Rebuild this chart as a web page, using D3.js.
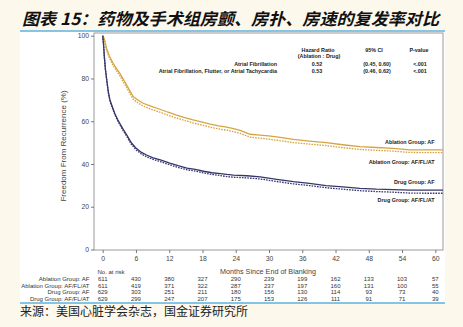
<!DOCTYPE html>
<html><head><meta charset="utf-8">
<script src="https://cdn.jsdelivr.net/npm/d3@7"></script>
<style>
html,body{margin:0;padding:0;background:#fdf8ec;}
svg{display:block;}
</style></head>
<body>
<svg id="c" width="463" height="327"></svg>
<script>
// ---------- data ----------
const titleText = "图表 15：药物及手术组房颤、房扑、房速的复发率对比";
const sourceText = "来源：美国心脏学会杂志，国金证券研究所";
const xTicks = [0,6,12,18,24,30,36,42,48,54,60];
const yTicks = [0,20,40,60,80,100];

const ablMonths = [0,0.3,0.7,1.2,1.9,2.5,3.1,3.7,4.3,4.9,5.5,6.4,7.3,8.8,10.3,11.8,13.3,14.8,16.3,17.6,19.4,20.9,22.4,23.6,24.8,25.7,26.6,28.4,29.9,31.4,32.9,34.4,37.3,40.3,43.3,46.4,49.4,52.4,55.4,58.4,61.5];
const ablAF    = [100,98.5,94,90.5,87,84.6,82.4,79.7,77,74.2,71.5,69.8,68.4,66.9,65.6,64.2,62.9,61.7,60.6,59.8,58.6,57.8,57.2,56.5,55.7,54.8,53.9,53.5,53.1,52.7,52.1,51.5,50.7,50.0,49.0,48.1,47.7,47.3,46.6,46.6,46.6];
const ablAll   = [100,98,93.2,89.6,86,83.5,81.2,78.5,75.8,73,70.3,68.5,67.1,65.5,64.2,62.8,61.5,60.3,59.2,58.4,57.2,56.4,55.8,55.1,54.3,53.4,52.5,52.1,51.6,51.1,50.6,50.0,49.3,48.6,47.6,46.8,46.4,46.0,45.4,45.3,45.3];

const drugMonths = [0,0.15,0.3,0.5,0.8,1.0,1.3,1.7,2.2,2.7,3.2,3.7,4.3,4.8,5.2,6.1,7.0,7.9,9.1,10.4,12.1,13.6,15.2,16.7,18.2,19.7,21.2,22.4,23.6,26,28.4,31.4,34.4,37.3,40.3,43.3,46.4,49.4,52.4,55.4,58.4,61.5];
const drugAF   = [100,96,90,84,78,74,70,67,63.5,60.8,58.4,56.2,53.8,51.5,49.8,47.2,45.4,44.2,42.9,41.9,40.4,39.2,38.1,37.5,36.6,35.9,35.5,35.1,34.8,34.5,34.0,32.8,31.7,30.9,29.9,29.3,28.6,28.2,28.0,27.8,27.8,27.8];
const drugAll  = [100,96,90,84,77.5,73.5,69.5,66.5,63,60.2,57.9,55.6,53.1,50.8,49.1,46.4,44.6,43.4,42.1,41.1,39.6,38.4,37.3,36.7,35.8,35.1,34.6,34.1,33.8,33.5,33.0,31.8,30.7,29.9,28.9,28.2,27.5,27.1,26.8,26.4,26.3,26.3];

const seriesNames = ["Ablation Group: AF","Ablation Group: AF/FL/AT","Drug Group: AF","Drug Group: AF/FL/AT"];
const riskRows = [
  [611,430,380,327,290,239,199,162,133,103,57],
  [611,419,371,322,287,237,197,160,131,100,55],
  [629,303,251,211,180,156,130,114,93,73,40],
  [629,299,247,207,175,153,126,111,91,71,39]
];
const hrHeaders = ["Hazard Ratio","(Ablation : Drug)","95% CI","P-value"];
const hrLabels = ["Atrial Fibrillation","Atrial Fibrillation, Flutter, or Atrial Tachycardia"];
const hrValues = ["0.52","0.53"];
const hrCI = ["(0.45, 0.60)","(0.46, 0.62)"];
const hrP = ["<.001","<.001"];

// ---------- drawing ----------
const svg = d3.select("#c");
const gold = "#d6a443", navy = "#36366c";

svg.append("rect").attr("x",20).attr("y",31).attr("width",425).attr("height",272).attr("fill","#fff");
svg.append("line").attr("x1",20).attr("x2",445).attr("y1",31).attr("y2",31).attr("stroke","#5cb2dc").attr("stroke-width",1.5);
svg.append("line").attr("x1",20).attr("x2",445).attr("y1",303).attr("y2",303).attr("stroke","#5cb2dc").attr("stroke-width",1.5);

svg.append("text").attr("x",22).attr("y",25)
  .attr("font-family","'Noto Sans CJK SC'").attr("font-weight","bold").attr("font-style","italic")
  .attr("font-size",16.5).attr("fill","#111").attr("textLength",417).attr("lengthAdjust","spacingAndGlyphs")
  .text(titleText);
svg.append("text").attr("x",20).attr("y",316)
  .attr("font-family","'Noto Sans CJK SC'").attr("font-size",12).attr("fill","#222")
  .attr("textLength",228).attr("lengthAdjust","spacingAndGlyphs")
  .text(sourceText);

const x = d3.scaleLinear().domain([0,60]).range([102.7,435.3]);
const y = d3.scaleLinear().domain([0,100]).range([249.5,35.7]);
const L=94, R=443, T=33, B=250;

svg.append("rect").attr("x",L).attr("y",T).attr("width",R-L).attr("height",B-T)
  .attr("fill","none").attr("stroke","#9a9a9a").attr("stroke-width",1);

const fontSans = "'Liberation Sans', Arial, sans-serif";
const yAxis = d3.axisLeft(y).tickValues(yTicks).tickSize(3).tickPadding(2);
const gy = svg.append("g").attr("transform",`translate(${L},0)`).call(yAxis);
const xAxis = d3.axisBottom(x).tickValues(xTicks).tickSize(3).tickPadding(3);
const gx = svg.append("g").attr("transform",`translate(0,${B})`).call(xAxis);
[gx,gy].forEach(g=>{
  g.select(".domain").remove();
  g.selectAll("line").attr("stroke","#777");
  g.selectAll("text").attr("font-family",fontSans).attr("font-size",6.8).attr("fill","#444");
});

svg.append("text").attr("transform","translate(66,146) rotate(-90)").attr("text-anchor","middle")
  .attr("font-family",fontSans).attr("font-size",8).attr("fill","#444").text("Freedom From Recurrence (%)");
svg.append("text").attr("x",268).attr("y",274).attr("text-anchor","middle")
  .attr("font-family",fontSans).attr("font-size",7.2).attr("fill","#444").text("Months Since End of Blanking");

svg.append("clipPath").attr("id","pc").append("rect").attr("x",L).attr("y",T).attr("width",R-L).attr("height",B-T);
const line = d3.line().x(d=>x(d[0])).y(d=>y(d[1])).curve(d3.curveLinear);
const curves = [
  {m:ablMonths, v:ablAll, c:gold, dash:"1.6,1.1"},
  {m:ablMonths, v:ablAF, c:gold, dash:null},
  {m:drugMonths, v:drugAll, c:navy, dash:"1.6,1.1"},
  {m:drugMonths, v:drugAF, c:navy, dash:null}
];
const gc = svg.append("g").attr("clip-path","url(#pc)");
curves.forEach(cv=>{
  gc.append("path").datum(cv.m.map((mm,i)=>[mm,cv.v[i]]))
    .attr("d",line).attr("fill","none").attr("stroke",cv.c).attr("stroke-width",1.3)
    .attr("stroke-dasharray",cv.dash);
});

const labY = [144,164,184,201.5];
seriesNames.forEach((s,i)=>{
  svg.append("text").attr("x",434.5).attr("y",labY[i]).attr("text-anchor","end")
    .attr("font-family",fontSans).attr("font-weight","bold").attr("font-size",5.4).attr("fill","#222").text(s);
});

const hb = svg.append("g").attr("font-family",fontSans).attr("font-weight","bold").attr("font-size",5.4).attr("fill","#222");
hb.append("text").attr("x",318).attr("y",51.5).attr("text-anchor","middle").text(hrHeaders[0]);
hb.append("text").attr("x",319).attr("y",57.5).attr("text-anchor","middle").text(hrHeaders[1]);
hb.append("text").attr("x",374).attr("y",51.5).attr("text-anchor","middle").text(hrHeaders[2]);
hb.append("text").attr("x",419).attr("y",51.5).attr("text-anchor","middle").text(hrHeaders[3]);
hrLabels.forEach((t,i)=>{
  const yy = 65.7 + i*7;
  hb.append("text").attr("x",277).attr("y",yy).attr("text-anchor","end").text(t);
  hb.append("text").attr("x",317).attr("y",yy).attr("text-anchor","middle").text(hrValues[i]);
  hb.append("text").attr("x",377).attr("y",yy).attr("text-anchor","middle").text(hrCI[i]);
  hb.append("text").attr("x",420).attr("y",yy).attr("text-anchor","middle").text(hrP[i]);
});

const rt = svg.append("g").attr("font-family",fontSans).attr("font-size",6).attr("fill","#333");
rt.append("text").attr("x",97.5).attr("y",274).text("No. at risk");
riskRows.forEach((row,ri)=>{
  const yy = 281 + ri*6.7;
  rt.append("text").attr("x",89.5).attr("y",yy).attr("text-anchor","end").text(seriesNames[ri]);
  row.forEach((v,ci)=>{
    rt.append("text").attr("x",x(xTicks[ci])).attr("y",yy).attr("text-anchor","middle").text(v);
  });
});
</script>
</body></html>
